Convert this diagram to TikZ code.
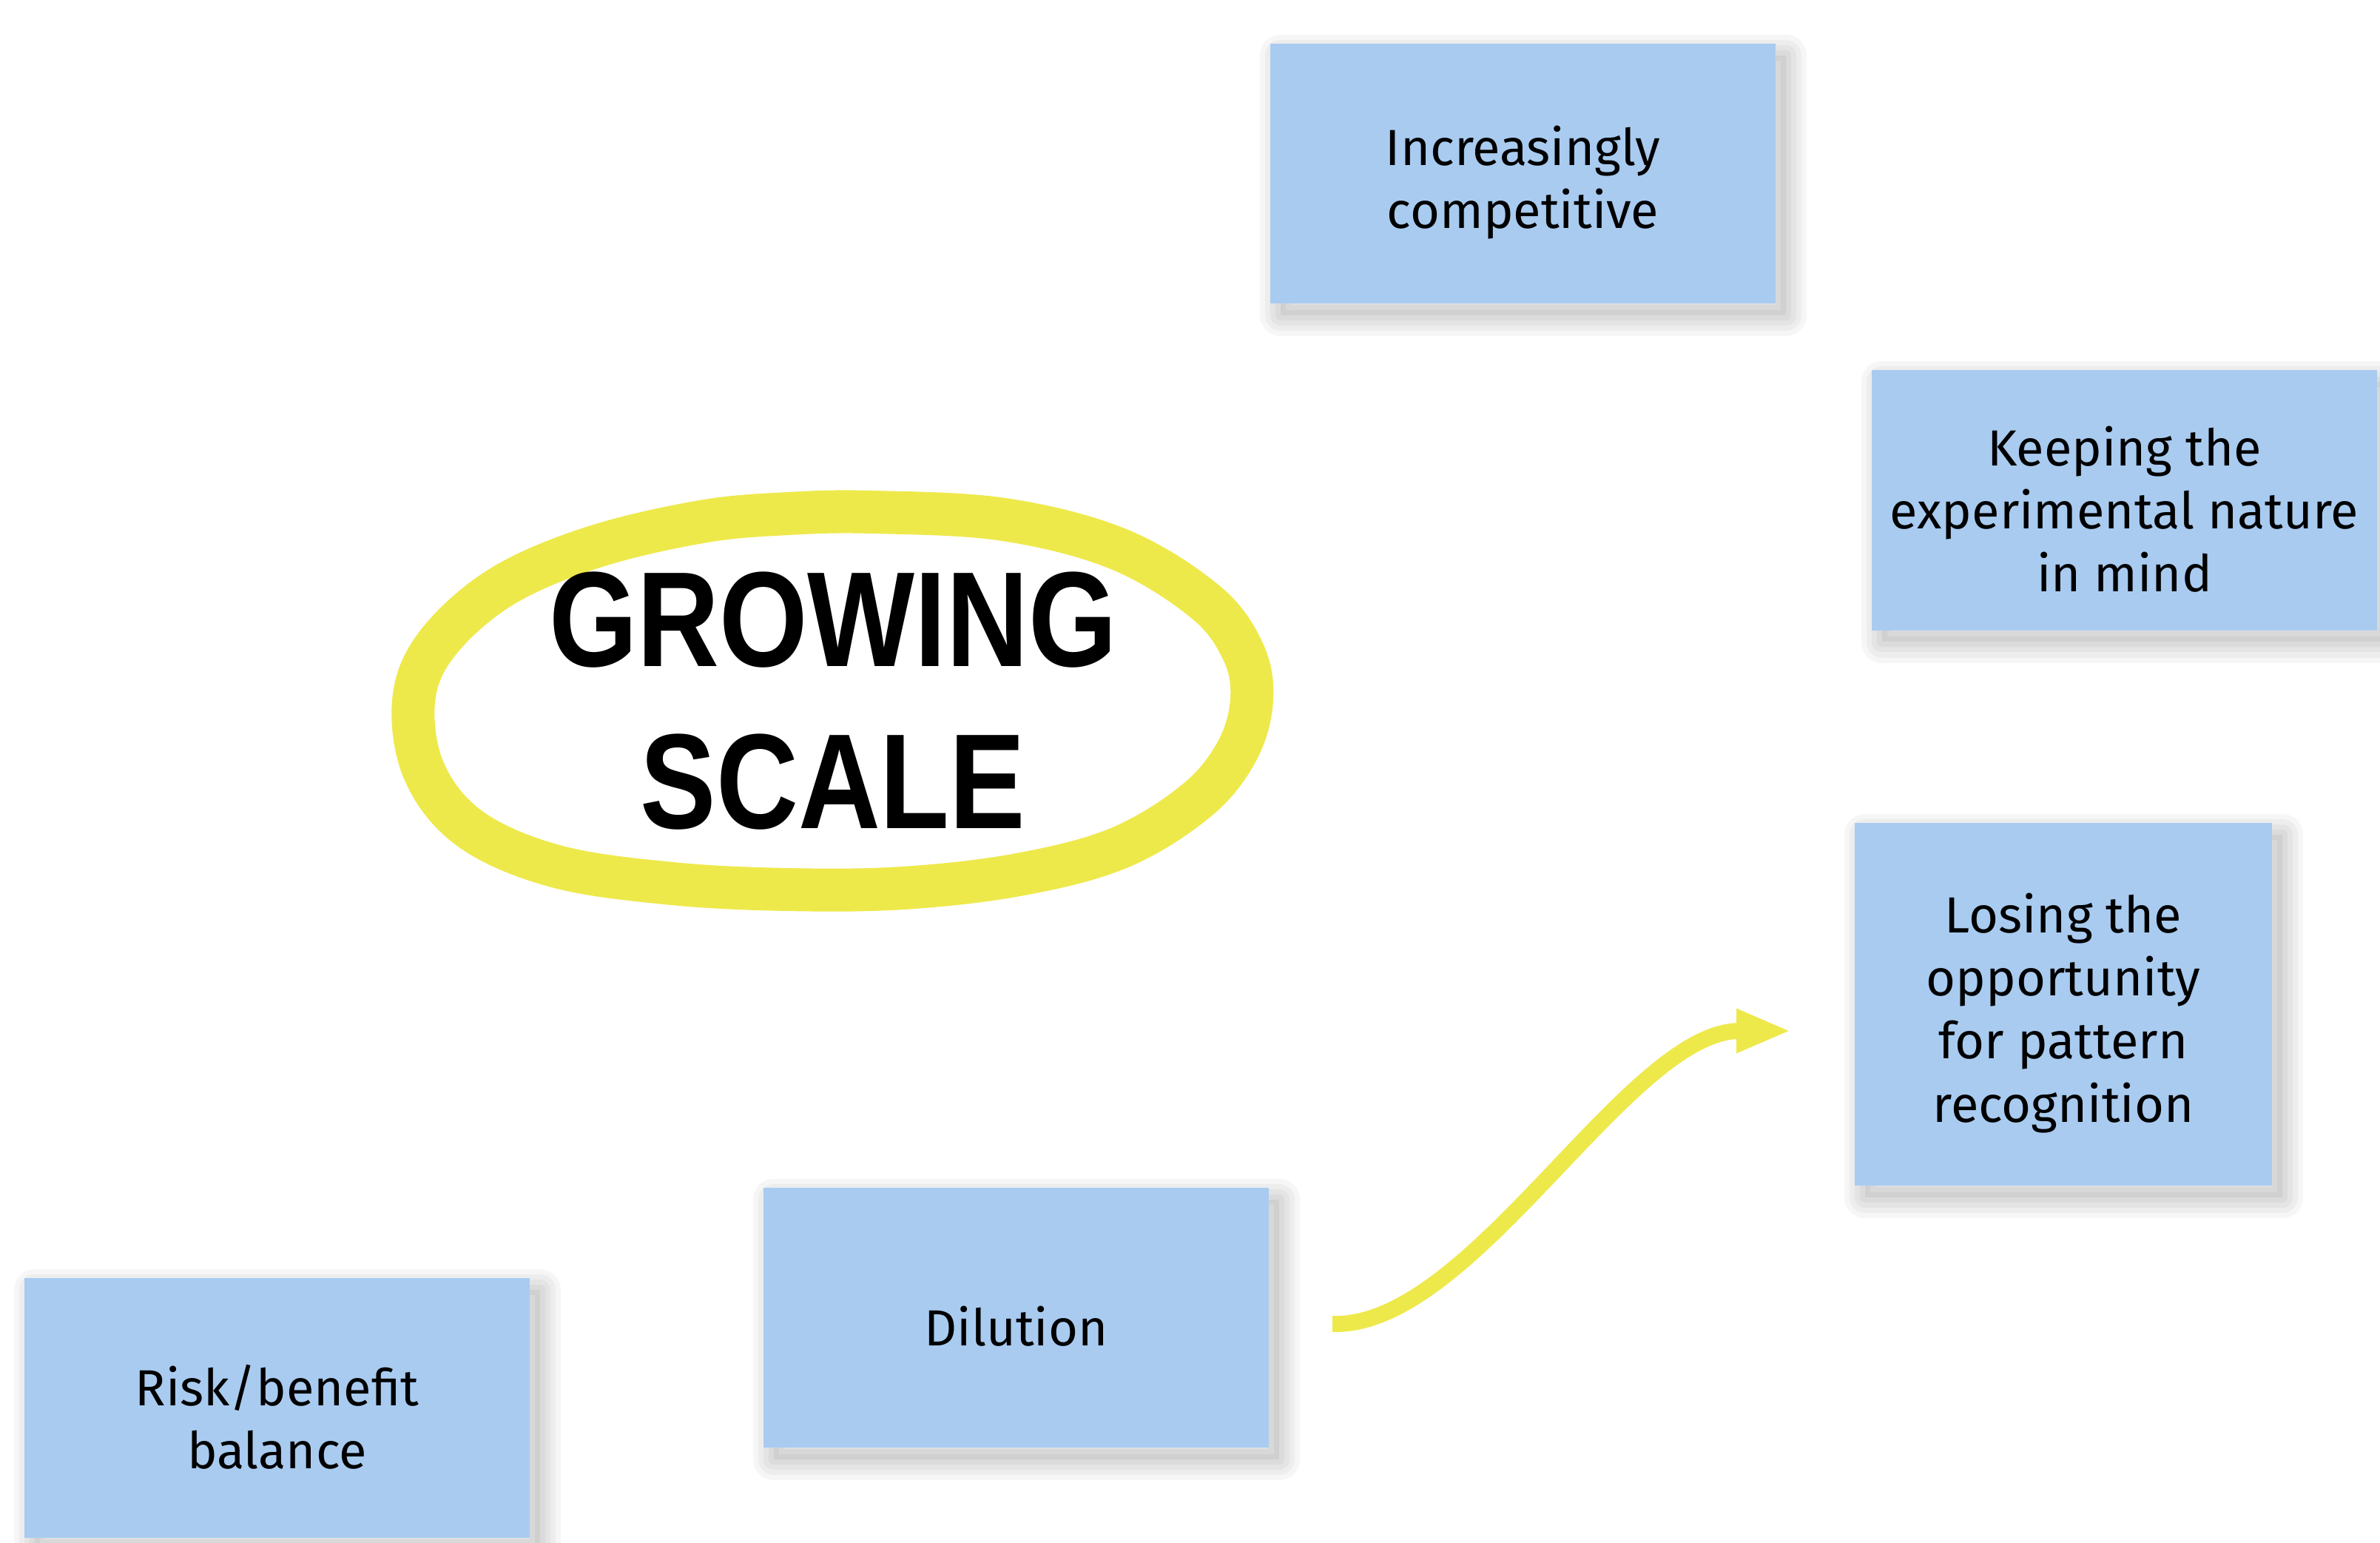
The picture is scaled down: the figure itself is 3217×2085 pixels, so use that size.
\documentclass[tikz,border=0pt]{standalone}
\usepackage{fontspec}
\setmainfont{Fira Sans}
\newfontfamily\titlefont{Liberation Sans}[FakeStretch=0.84]
\usetikzlibrary{arrows.meta}
\definecolor{boxblue}{HTML}{A9CBF0}
\definecolor{hiyellow}{HTML}{EEE94B}
\begin{document}
\begin{tikzpicture}[x=0.01cm,y=-0.01cm,
  soft/.style={preaction={draw=black, draw opacity=0.035, line join=round,
    line width=#1, transform canvas={shift={(4pt,-4.5pt)}}}},
  softfill/.style={preaction={fill=black, fill opacity=0.05,
    transform canvas={shift={(4pt,-4.5pt)}}}},
  card/.style={fill=boxblue, inner sep=0pt, softfill,
    soft=16pt, soft=12pt, soft=8pt, soft=4pt},
  cardtext/.style={align=center, inner sep=0pt, yshift=-3.4pt,
    font=\fontsize{19.5}{24.2}\selectfont},
  wide/.style={minimum width=6.83cm, minimum height=3.51cm},
  loop/.style={draw=hiyellow, line width=16.5pt},
  flow/.style={draw=hiyellow, line width=6.2pt, -{Triangle[length=21pt,width=15.5pt]}}]
\fill[white] (0,0) rectangle (3217,2085);
\useasboundingbox (0,0) rectangle (3217,2085);

% highlighted title
\draw[loop] plot[smooth cycle, tension=0.6] coordinates {
  (1181,692) (1357,702) (1512,742) (1629,813) (1680,880) (1692,945)
  (1672,1015) (1617,1082) (1512,1146) (1376,1182) (1220,1200)
  (1065,1202) (909,1194) (753,1171) (637,1121) (574,1044) (559,948)
  (590,871) (676,794) (800,740) (948,705) (1065,694)};
\node[inner sep=0pt, align=center, font=\titlefont\bfseries\fontsize{52}{62.3}\selectfont] (title) at (1126,947) {GROWING\\SCALE};

% cards
\node[card, wide, label={[cardtext]center:{Increasingly\\competitive}}] (comp) at (2058.5,234.5) {};
\node[card, wide, label={[cardtext]center:{Keeping the\\experimental nature\\in mind}}] (keep) at (2871.5,676) {};
\node[card, minimum width=5.64cm, minimum height=4.90cm, label={[cardtext]center:{Losing the\\opportunity\\for pattern\\recognition}}] (lose) at (2789,1357) {};
\node[card, wide, label={[cardtext]center:{Dilution}}] (dil) at (1373.5,1780.5) {};
\node[card, wide, label={[cardtext]center:{Risk/benefit\\balance}}] (risk) at (374.5,1902.5) {};

% arrow
\coordinate (arrS) at (1801,1789);
\coordinate (arrE) at (2421,1393);
\draw[flow] (arrS) .. controls (1990,1795) and (2200,1393) .. (arrE);
\end{tikzpicture}
\end{document}
